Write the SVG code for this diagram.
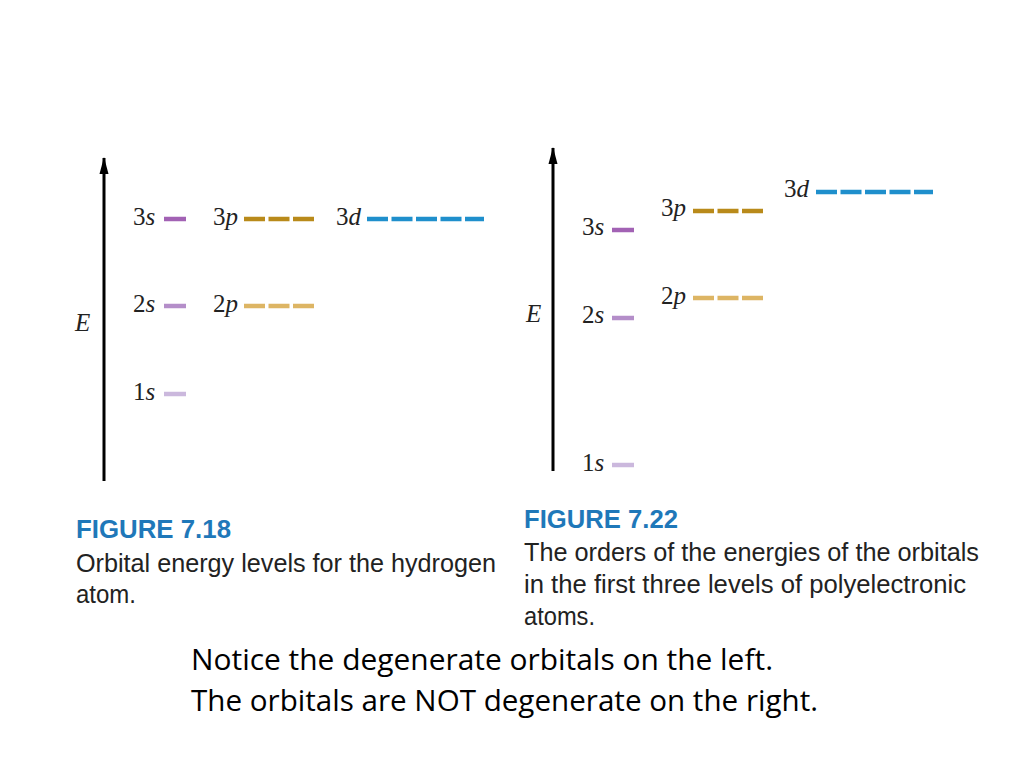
<svg xmlns="http://www.w3.org/2000/svg" width="1024" height="768" viewBox="0 0 1024 768">
<defs>
<marker id="ah" markerWidth="18" markerHeight="10" refX="16" refY="5" orient="auto" markerUnits="userSpaceOnUse" viewBox="0 0 18 10">
<path d="M0,0.5 L17,5 L0,9.5 Z" fill="#000"/>
</marker>
</defs>
<style>
.lbl{font-family:"Liberation Serif","Times New Roman",serif;font-size:25px;fill:#222}
.it{font-style:italic}
.axis{stroke:#000;stroke-width:3;fill:none}
.lv{stroke-width:4.5;fill:none}
.s3{stroke:#a262b4}.s2{stroke:#b48ec9}.s1{stroke:#cbb8dd}
.p3{stroke:#b98a1a}.p2{stroke:#ddb564}
.d3{stroke:#1f8fcc}
.d-p{stroke-dasharray:21 3.5}
.fig{font-family:"Liberation Sans",Arial,sans-serif;font-weight:bold;font-size:26px;fill:#1f78b9}
.cap{font-family:"Liberation Sans",Arial,sans-serif;font-size:26px;fill:#222}
.note{font-family:"Open Sans","Liberation Sans",sans-serif;font-size:30px;fill:#000}
</style>
<rect width="1024" height="768" fill="#fff"/>

<g id="connectors">
<line class="axis" x1="104" y1="481" x2="104" y2="158" marker-end="url(#ah)"/>
<line class="axis" x1="553" y1="471" x2="553" y2="148" marker-end="url(#ah)"/>
</g>

<g id="left-figure">
<text class="lbl it" x="75" y="331">E</text>
<g id="L3s"><text class="lbl" x="133" y="225">3<tspan class="it">s</tspan></text><line class="lv s3" x1="164" y1="219" x2="186" y2="219"/></g>
<g id="L3p"><text class="lbl" x="213" y="225">3<tspan class="it">p</tspan></text><line class="lv p3 d-p" x1="244" y1="219" x2="314" y2="219"/></g>
<g id="L3d"><text class="lbl" x="336" y="225">3<tspan class="it">d</tspan></text><line class="lv d3 d-p" x1="367" y1="219" x2="484" y2="219"/></g>
<g id="L2s"><text class="lbl" x="133" y="312">2<tspan class="it">s</tspan></text><line class="lv s2" x1="164" y1="306" x2="186" y2="306"/></g>
<g id="L2p"><text class="lbl" x="213" y="312">2<tspan class="it">p</tspan></text><line class="lv p2 d-p" x1="244" y1="306" x2="314" y2="306"/></g>
<g id="L1s"><text class="lbl" x="133" y="400">1<tspan class="it">s</tspan></text><line class="lv s1" x1="164" y1="394" x2="186" y2="394"/></g>
</g>

<g id="right-figure">
<text class="lbl it" x="526" y="322">E</text>
<g id="R3s"><text class="lbl" x="582" y="235">3<tspan class="it">s</tspan></text><line class="lv s3" x1="612" y1="230" x2="634" y2="230"/></g>
<g id="R3p"><text class="lbl" x="661" y="216">3<tspan class="it">p</tspan></text><line class="lv p3 d-p" x1="693" y1="211" x2="763" y2="211"/></g>
<g id="R3d"><text class="lbl" x="784" y="197">3<tspan class="it">d</tspan></text><line class="lv d3 d-p" x1="816" y1="192" x2="933" y2="192"/></g>
<g id="R2p"><text class="lbl" x="661" y="304">2<tspan class="it">p</tspan></text><line class="lv p2 d-p" x1="693" y1="298" x2="763" y2="298"/></g>
<g id="R2s"><text class="lbl" x="582" y="323">2<tspan class="it">s</tspan></text><line class="lv s2" x1="612" y1="318" x2="634" y2="318"/></g>
<g id="R1s"><text class="lbl" x="582" y="471">1<tspan class="it">s</tspan></text><line class="lv s1" x1="612" y1="465" x2="634" y2="465"/></g>
</g>

<g id="caption-left">
<text class="fig" x="76" y="538" textLength="155" lengthAdjust="spacingAndGlyphs">FIGURE 7.18</text>
<text class="cap" x="76" y="572" textLength="420" lengthAdjust="spacingAndGlyphs">Orbital energy levels for the hydrogen</text>
<text class="cap" x="76" y="603" textLength="60" lengthAdjust="spacingAndGlyphs">atom.</text>
</g>

<g id="caption-right">
<text class="fig" x="524" y="528" textLength="154" lengthAdjust="spacingAndGlyphs">FIGURE 7.22</text>
<text class="cap" x="524" y="561" textLength="455" lengthAdjust="spacingAndGlyphs">The orders of the energies of the orbitals</text>
<text class="cap" x="524" y="593" textLength="442" lengthAdjust="spacingAndGlyphs">in the first three levels of polyelectronic</text>
<text class="cap" x="524" y="625" textLength="71" lengthAdjust="spacingAndGlyphs">atoms.</text>
</g>

<g id="note">
<text class="note" x="191" y="670" textLength="582" lengthAdjust="spacingAndGlyphs">Notice the degenerate orbitals on the left.</text>
<text class="note" x="191" y="711" textLength="627" lengthAdjust="spacingAndGlyphs">The orbitals are NOT degenerate on the right.</text>
</g>
</svg>
